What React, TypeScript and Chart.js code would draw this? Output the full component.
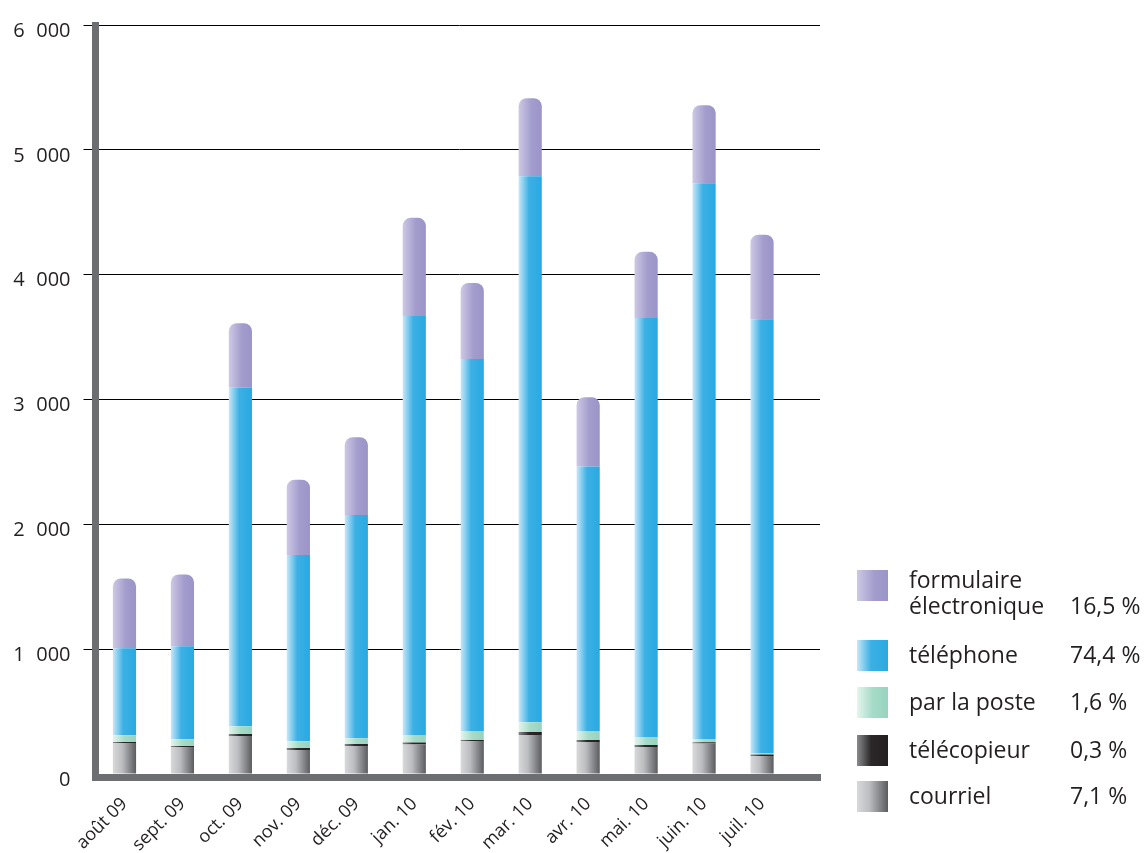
import React, { useEffect, useRef } from 'react';
import { Chart, registerables } from 'chart.js';

Chart.register(...registerables);

// ---- data ----
const months = ['août 09', 'sept. 09', 'oct. 09', 'nov. 09', 'déc. 09', 'jan. 10', 'fév. 10', 'mar. 10', 'avr. 10', 'mai. 10', 'juin. 10', 'juil. 10'];
const courriel = [248, 217, 304, 193, 225, 236, 264, 312, 256, 217, 244, 145];
const telecopieur = [8, 8, 16, 16, 15, 16, 8, 24, 16, 16, 10, 11];
const poste = [54, 53, 63, 53, 46, 60, 72, 79, 72, 63, 26, 8];
const telephone = [698, 746, 2712, 1492, 1788, 3357, 2981, 4373, 2119, 3357, 4453, 3479];
const formulaire = [558, 574, 516, 603, 624, 786, 609, 625, 555, 530, 624, 677];
const yTicks = [0, 1000, 2000, 3000, 4000, 5000, 6000];
const yTickLabels = ['0', '1\u2007000', '2\u2007000', '3\u2007000', '4\u2007000', '5\u2007000', '6\u2007000'];
const legendLabels = [['formulaire', 'électronique'], ['téléphone'], ['par la poste'], ['télécopieur'], ['courriel']];
const legendPcts = ['16,5 %', '74,4 %', '1,6 %', '0,3 %', '7,1 %'];

// ---- styles ----
const FONT = "'Open Sans', 'DejaVu Sans', sans-serif";
const TEXT = '#231f20';
const AXIS = '#6d6e71';
type Stops = [number, string][];
const G_PURPLE: Stops = [[0, '#cdc9e4'], [0.55, '#a39dcd'], [1, '#9b94c7']];
const G_BLUE: Stops = [[0, '#c8e7f8'], [0.45, '#3cb0e5'], [1, '#29a9e1']];
const G_GREEN: Stops = [[0, '#e4f5ed'], [0.5, '#a6dbc8'], [1, '#97d3bf']];
const G_BLACK: Stops = [[0, '#8a8b8e'], [0.45, '#2c2829'], [1, '#231f20']];
const G_GREY: Stops = [[0, '#d8d9db'], [0.4, '#bcbdc0'], [1, '#5b5c5f']];
const legendStops = [G_PURPLE, G_BLUE, G_GREEN, G_BLACK, G_GREY];
const legendTops = [570, 640, 687, 735, 781];

const BAR_PCT = 0.4;
const AXIS_W = 7;

function barGradient(stops: Stops) {
  return (ctx: any) => {
    const chart = ctx.chart;
    const xs = chart.scales && chart.scales.x;
    if (!xs || ctx.type !== 'data' || !chart.chartArea) return stops[stops.length - 1][1];
    const cx = xs.getPixelForValue(ctx.dataIndex);
    const w = (xs.getPixelForValue(1) - xs.getPixelForValue(0)) * BAR_PCT;
    const g = chart.ctx.createLinearGradient(cx - w / 2, 0, cx + w / 2, 0);
    stops.forEach(([o, c]) => g.addColorStop(o, c));
    return g;
  };
}

function cssGradient(stops: Stops) {
  return 'linear-gradient(to right, ' + stops.map(([o, c]) => `${c} ${o * 100}%`).join(', ') + ')';
}

const toXY = (arr: number[]) => arr.map((v, i) => ({ x: i, y: v }));

// fills the small square where the two thick axis lines meet
const axisCorner = {
  id: 'axisCorner',
  afterDraw(chart: any) {
    const { ctx, chartArea } = chart;
    ctx.save();
    ctx.fillStyle = AXIS;
    ctx.fillRect(chartArea.left - AXIS_W / 2, chartArea.bottom - AXIS_W / 2, AXIS_W, AXIS_W);
    ctx.restore();
  },
};

export default function App() {
  const ref = useRef<HTMLCanvasElement | null>(null);

  useEffect(() => {
    if (!ref.current) return;
    const common = { barPercentage: BAR_PCT, categoryPercentage: 1, borderWidth: 0, borderSkipped: false as any };
    const chart = new Chart(ref.current, {
      type: 'bar',
      data: {
        datasets: [
          { label: 'courriel', data: toXY(courriel), backgroundColor: barGradient(G_GREY), ...common },
          { label: 'télécopieur', data: toXY(telecopieur), backgroundColor: barGradient(G_BLACK), ...common },
          { label: 'par la poste', data: toXY(poste), backgroundColor: barGradient(G_GREEN), ...common },
          { label: 'téléphone', data: toXY(telephone), backgroundColor: barGradient(G_BLUE), ...common },
          {
            label: 'formulaire électronique', data: toXY(formulaire), backgroundColor: barGradient(G_PURPLE), ...common,
            borderRadius: { topLeft: 8, topRight: 8, bottomLeft: 0, bottomRight: 0 },
          },
        ] as any,
      },
      plugins: [axisCorner],
      options: {
        animation: false,
        responsive: false,
        maintainAspectRatio: false,
        layout: { padding: { top: 18, right: 324, left: 0, bottom: 0 } },
        plugins: { legend: { display: false }, tooltip: { enabled: false } },
        scales: {
          x: {
            type: 'linear',
            min: -0.5,
            max: 12,
            offset: false,
            stacked: true,
            grid: { display: false, drawTicks: false, offset: false },
            border: { display: true, color: AXIS, width: AXIS_W },
            afterBuildTicks: (s: any) => { s.ticks = months.map((_, i) => ({ value: i })); },
            afterFit: (s: any) => { s.height = 75.5; },
            ticks: {
              autoSkip: false,
              minRotation: 45,
              maxRotation: 45,
              padding: 16,
              color: TEXT,
              font: { family: FONT, size: 18 },
              callback: (v: any) => months[Math.round(Number(v))] ?? '',
            },
          },
          y: {
            stacked: true,
            min: -28,
            max: 6000,
            afterBuildTicks: (s: any) => { s.ticks = yTicks.map((v) => ({ value: v })); },
            afterFit: (s: any) => { s.width = 95.5; },
            grid: {
              color: (c: any) => (c.tick && c.tick.value === 0 ? 'rgba(0,0,0,0)' : '#000000'),
              lineWidth: 1,
              tickLength: 12,
              drawTicks: true,
            },
            border: { display: true, color: AXIS, width: AXIS_W },
            ticks: {
              padding: 13,
              labelOffset: 6,
              color: TEXT,
              font: { family: FONT, size: 20 },
              callback: (v: any) => yTickLabels[yTicks.indexOf(Number(v))] ?? '',
            },
          },
        },
      } as any,
    });
    return () => chart.destroy();
  }, []);

  return (
    <div style={{ position: 'fixed', left: 0, top: 0, width: 1144, height: 853, background: '#ffffff', overflow: 'hidden' }}>
      <canvas ref={ref} width={1144} height={853} style={{ display: 'block', width: 1144, height: 853 }} />
      {legendLabels.map((lines, i) => (
        <React.Fragment key={i}>
          <div style={{ position: 'absolute', left: 857, top: legendTops[i], width: 31, height: 31, background: cssGradient(legendStops[i]) }} />
          <div
            style={{
              position: 'absolute', left: 909, top: lines.length > 1 ? legendTops[i] - 4 : legendTops[i] - 1,
              fontFamily: FONT, fontSize: 23, color: TEXT, lineHeight: lines.length > 1 ? '26px' : '31px', whiteSpace: 'nowrap',
            }}
          >
            {lines.map((l, j) => <div key={j}>{l}</div>)}
          </div>
          <div
            style={{
              position: 'absolute', left: 1070, top: lines.length > 1 ? legendTops[i] - 4 + 26 : legendTops[i] - 1,
              fontFamily: FONT, fontSize: 23, color: TEXT, lineHeight: lines.length > 1 ? '26px' : '31px', whiteSpace: 'nowrap',
            }}
          >
            {legendPcts[i]}
          </div>
        </React.Fragment>
      ))}
    </div>
  );
}
